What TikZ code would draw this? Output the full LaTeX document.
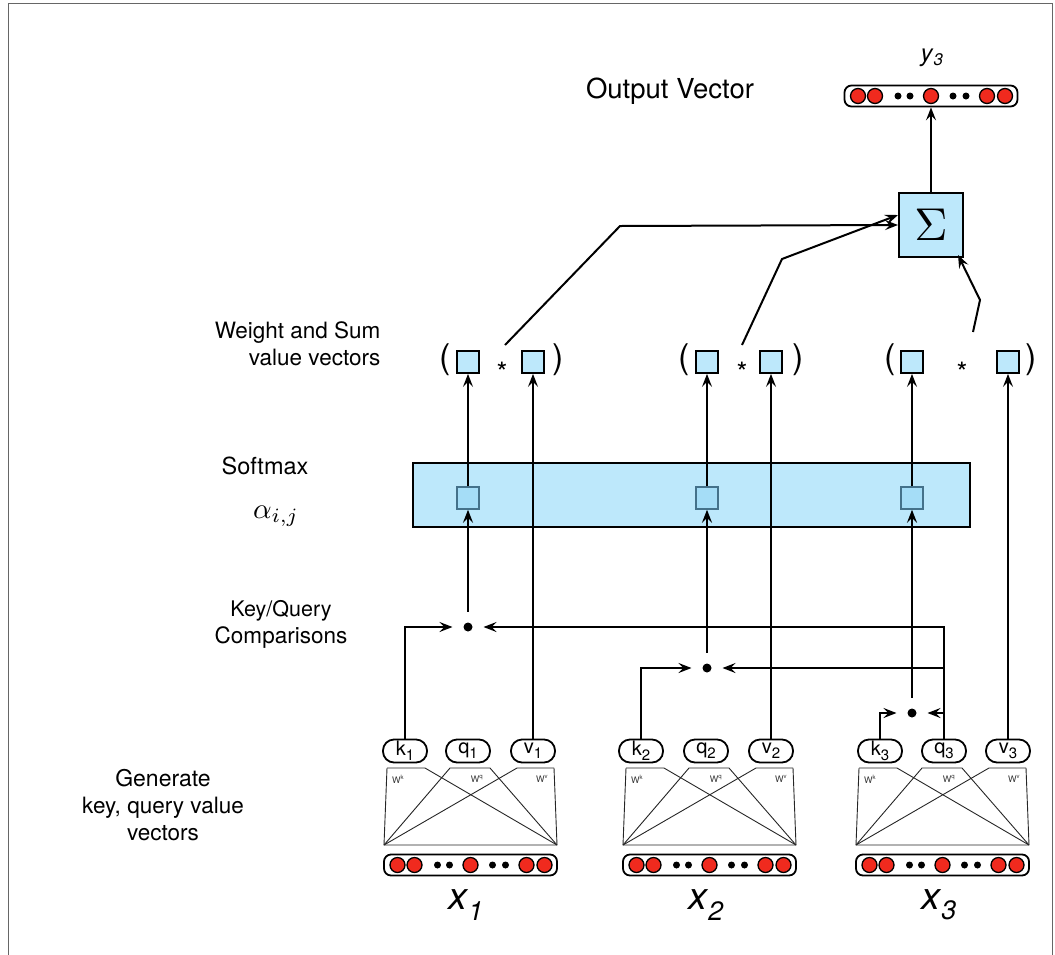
\documentclass[tikz,border=0pt]{standalone}
\usepackage{graphicx}
\usepackage{fontspec}
\setmainfont{TeX Gyre Heros}
\usetikzlibrary{arrows.meta}
\definecolor{lblue}{HTML}{BDE8FB}
\definecolor{sblue}{HTML}{A5DDF7}
\definecolor{sqb}{HTML}{44718A}
\definecolor{vred}{HTML}{F02A1E}
\newcommand\drawvec[3]{%
  \node[vecbox] (#1) at (#2,#3) {};
  \foreach \d/\n in {-73/a,-56/b,0/c,56/d,74/e} \node[rdot] (#1r\n) at (#2+\d,#3) {};
  \foreach \d/\n in {-33/a,-21/b,22/c,35/d} \node[bdot] (#1b\n) at (#2+\d,#3) {};
}
\newcommand\weights[2]{%
  \draw[wline] (#2+3,768) -- (#2,845) -- (#2+173,845) -- (#2+170,768);
  \draw[wline] (#2+3,768) -- (#2+41,768) -- (#2+173,845);
  \draw[wline] (#2,845) -- (#2+66,768) -- (#2+106,768) -- (#2+173,845);
  \draw[wline] (#2,845) -- (#2+133,768) -- (#2+170,768);
  \node[wlab] (#1k) at (#2+14,779) {W\textsuperscript{k}};
  \node[wlab] (#1q) at (#2+93,779) {W\textsuperscript{q}};
  \node[wlab] (#1v) at (#2+158,779) {W\textsuperscript{v}};
}
\newcommand\pilltxt[2]{#1\raisebox{-5pt}{\fontsize{15}{15}\selectfont #2}}
\newcommand\xlab[1]{\textit{x}\textsubscript{\textit{#1}}}
\begin{document}
\begin{tikzpicture}[x=1pt,y=-1pt,font=\fontsize{22.5}{27}\selectfont,
  ln/.style={line width=2pt},
  arr/.style={line width=2pt,-{Stealth[length=13pt,width=10pt,inset=5pt]}},
  wline/.style={line width=0.9pt,draw=black!85},
  wlab/.style={font=\fontsize{9}{9}\selectfont,inner sep=0pt,text=black!80},
  pill/.style={draw,line width=1.8pt,rounded corners=11pt,minimum width=44pt,minimum height=23pt,inner sep=0pt,font=\fontsize{20}{20}\selectfont},
  wsq/.style={draw,line width=1.8pt,fill=lblue,minimum size=22pt,inner sep=0pt},
  ssq/.style={draw=sqb,line width=1.5pt,fill=sblue,minimum size=22pt,inner sep=0pt},
  rdot/.style={circle,draw,line width=1.3pt,fill=vred,minimum size=15pt,inner sep=0pt},
  bdot/.style={circle,fill=black,minimum size=7pt,inner sep=0pt},
  vecbox/.style={draw,line width=1.8pt,rounded corners=7pt,minimum width=173pt,minimum height=21pt,inner sep=0pt},
  cmp/.style={circle,fill=black,minimum size=9pt,inner sep=0pt,outer sep=11pt},
  par/.style={font=\fontsize{34}{34}\selectfont,inner sep=0pt},
  star/.style={font=\fontsize{28}{28}\selectfont,inner sep=0pt}]
\useasboundingbox (0,0) rectangle (1055,954);
\draw[black!60,line width=1pt] (8,3) rectangle (1052,970);

% left labels
\node (lout) at (670,91) {\fontsize{27.5}{30}\selectfont Output Vector};
\node[align=right,anchor=east] (lws) at (384,344) {Weight and Sum\\value vectors};
\node (lsm) at (265,466) {\fontsize{23.5}{27}\selectfont Softmax};
\node (lal) at (276,516) {\scalebox{2.9}{\normalsize$\alpha_{i,j}$}};
\node[align=center] (lkq) at (281,624) {\fontsize{21.5}{32}\selectfont Key/Query\\Comparisons};
\node[align=center] (lgen) at (163,805) {\fontsize{23}{33}\selectfont Generate\\key, query value\\vectors};

% output vector
\drawvec{yv}{931}{96}
\node (ylab) at (932,58) {\fontsize{24}{24}\selectfont\textit{y}\textsubscript{\textit{3}}};
\node[wsq,minimum size=64pt,line width=2pt] (sig) at (931,225) {\scalebox{4.6}{\normalsize$\Sigma$}};
\draw[arr] (sig.north) -- (yv.south);

% bottom vectors and weights
\drawvec{xa}{470.5}{865}
\drawvec{xb}{709.5}{865}
\drawvec{xc}{942.5}{865}
\weights{ga}{384}
\weights{gb}{623}
\weights{gc}{856}
\node (xla) at (466,905) {\fontsize{38}{38}\selectfont\xlab{1}};
\node (xlb) at (706,905) {\fontsize{38}{38}\selectfont\xlab{2}};
\node (xlc) at (939,905) {\fontsize{38}{38}\selectfont\xlab{3}};

% pills
\node[pill] (k1) at (405,751) {\pilltxt{k}{1}};
\node[pill] (q1) at (468,751) {\pilltxt{q}{1}};
\node[pill] (v1) at (533,751) {\pilltxt{v}{1}};
\node[pill] (k2) at (641,751) {\pilltxt{k}{2}};
\node[pill] (q2) at (706,751) {\pilltxt{q}{2}};
\node[pill] (v2) at (771,751) {\pilltxt{v}{2}};
\node[pill] (k3) at (880,751) {\pilltxt{k}{3}};
\node[pill] (q3) at (944,751) {\pilltxt{q}{3}};
\node[pill] (v3) at (1008,751) {\pilltxt{v}{3}};

% comparison dots
\node[cmp] (d1) at (468,627) {};
\node[cmp] (d2) at (707,668) {};
\node[cmp] (d3) at (912,713) {};

% softmax
\node[draw,line width=2pt,fill=lblue,minimum width=557pt,minimum height=64pt,inner sep=0pt] (smx) at (691.5,495) {};
\node[ssq] (s1) at (468,498) {};
\node[ssq] (s2) at (707,498) {};
\node[ssq] (s3) at (912,498) {};

% weight and sum row
\node[wsq] (w11) at (468,362) {};
\node[wsq] (w12) at (533,362) {};
\node[wsq] (w21) at (707,362) {};
\node[wsq] (w22) at (771,362) {};
\node[wsq] (w31) at (912,362) {};
\node[wsq] (w32) at (1008,362) {};
\node[par] (pa1) at (445,360) {(};
\node[par] (pa2) at (558,360) {)};
\node[par] (pb1) at (684,360) {(};
\node[par] (pb2) at (798,360) {)};
\node[par] (pc1) at (890,360) {(};
\node[par] (pc2) at (1031,360) {)};
\node[star] (st1) at (502,372) {*};
\node[star] (st2) at (742,372) {*};
\node[star] (st3) at (962,372) {*};

% connectors
\draw[arr] (k1.north) |- (d1);
\draw[arr] (k2.north) |- (d2);
\draw[arr] (k3.north) |- (d3);
\draw[arr] (q3.north) |- (d1);
\draw[arr] (q3.north) |- (d2);
\draw[arr] (q3.north) |- (d3);
\draw[arr] (d1) -- (s1);
\draw[arr] (d2) -- (s2);
\draw[arr] (d3) -- (s3);
\draw[arr] (s1) -- (w11);
\draw[arr] (s2) -- (w21);
\draw[arr] (s3) -- (w31);
\draw[arr] (v1.north) -- (w12);
\draw[arr] (v2.north) -- (w22);
\draw[arr] (v3.north) -- (w32);

\coordinate (c1) at (505,345);
\coordinate (c2) at (742,345);
\coordinate (c3) at (973,332);
\draw[arr] (c1) -- (620,226) -- (sig.west);
\draw[arr] (c2) -- (782,259) -- ([yshift=10pt]sig.west);
\draw[arr] (c3) -- (980,300) -- ([xshift=-6pt,yshift=3pt]sig.south east);
\end{tikzpicture}
\end{document}
